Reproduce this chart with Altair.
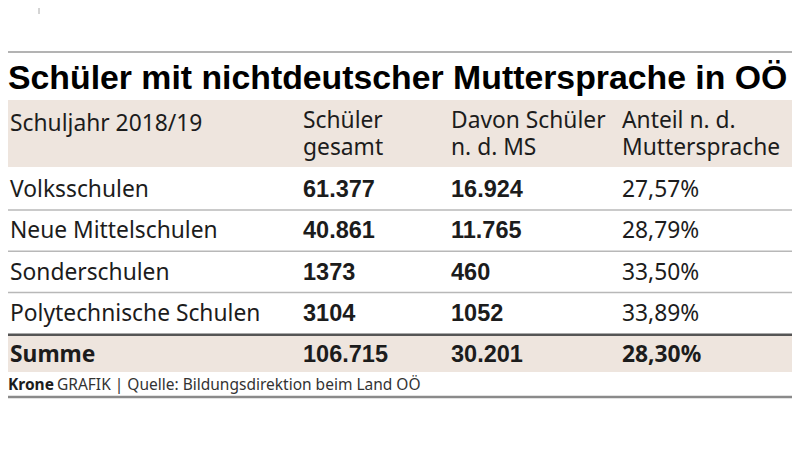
import altair as alt
import pandas as pd

# ---------------- data ----------------
title = "Schüler mit nichtdeutscher Muttersprache in OÖ"
year_label = "Schuljahr 2018/19"
col_headers_1 = ["Schüler", "Davon Schüler", "Anteil n. d."]
col_headers_2 = ["gesamt", "n. d. MS", "Muttersprache"]
schools = ["Volksschulen", "Neue Mittelschulen", "Sonderschulen", "Polytechnische Schulen"]
total_students = [61377, 40861, 1373, 3104]
nds_students = [16924, 11765, 460, 1052]
share_pct = [27.57, 28.79, 33.50, 33.89]
sum_label = "Summe"
sum_total = 106715
sum_nds = 30201
sum_share = 28.30
source_brand = "Krone"
source_text = "GRAFIK | Quelle: Bildungsdirektion beim Land OÖ"


def fmt_int(v):
    return f"{v:,}".replace(",", ".") if v >= 10000 else str(v)


def fmt_pct(v):
    return f"{v:.2f}".replace(".", ",") + "%"


rows = schools + [sum_label]
df = pd.DataFrame({
    "row": rows,
    "gesamt": [fmt_int(v) for v in total_students + [sum_total]],
    "ms": [fmt_int(v) for v in nds_students + [sum_nds]],
    "anteil": [fmt_pct(v) for v in share_pct + [sum_share]],
})
body = df.iloc[:4]
summe = df.iloc[4:]

# ---------------- layout / style ----------------
W, H = 784, 436
COND = "Liberation Sans, Arial, DejaVu Sans"
SANS = "Noto Sans"
INK = "#1c1c1c"
BEIGE = "#eee5de"
col_x = [295, 443, 614]
FS = 22.8

yscale = alt.Scale(type="point", domain=rows, range=[182, 347], padding=0)
Y = alt.Y("row:N", scale=yscale, axis=None)

blank = pd.DataFrame({"k": [0]})
base = alt.Chart(blank)

layers = []
# stray tick mark top-left
layers.append(base.mark_rule(color="#aaaaaa", strokeWidth=1).encode(
    x=alt.value(31), y=alt.value(0), y2=alt.value(6)))
# top rule
layers.append(base.mark_rule(color="#9a9a9a", strokeWidth=1.5).encode(
    x=alt.value(0), x2=alt.value(W), y=alt.value(44)))
# title
layers.append(base.mark_text(text=title, font=COND, fontSize=33.8, fontWeight="bold",
                             align="left", baseline="alphabetic", color="#000000").encode(
    x=alt.value(0), y=alt.value(81)))
# header band
layers.append(base.mark_rect(color=BEIGE).encode(
    x=alt.value(0), x2=alt.value(W), y=alt.value(92), y2=alt.value(159)))
# summe band
layers.append(base.mark_rect(color=BEIGE).encode(
    x=alt.value(0), x2=alt.value(W), y=alt.value(327), y2=alt.value(364)))
# thin separators
layers.append(alt.Chart(df.iloc[:3]).mark_rule(color="#b8b8b8", strokeWidth=1.5, yOffset=20).encode(
    y=Y, x=alt.value(0), x2=alt.value(W)))
# dark separator before Summe
layers.append(alt.Chart(df.iloc[3:4]).mark_rule(color="#555555", strokeWidth=2.5, yOffset=21).encode(
    y=Y, x=alt.value(0), x2=alt.value(W)))
# header texts
layers.append(base.mark_text(text=year_label, font=SANS, fontSize=FS, align="left",
                             baseline="alphabetic", color=INK).encode(
    x=alt.value(2), y=alt.value(123)))
for h1, h2, cx in zip(col_headers_1, col_headers_2, col_x):
    layers.append(base.mark_text(text=h1, font=SANS, fontSize=FS, align="left",
                                 baseline="alphabetic", color=INK).encode(
        x=alt.value(cx), y=alt.value(120)))
    layers.append(base.mark_text(text=h2, font=SANS, fontSize=FS, align="left",
                                 baseline="alphabetic", color=INK).encode(
        x=alt.value(cx), y=alt.value(147)))
# body labels
layers.append(alt.Chart(body).mark_text(font=SANS, fontSize=FS, align="left", baseline="middle",
                                        color=INK).encode(x=alt.value(2), y=Y, text="row:N"))
layers.append(alt.Chart(summe).mark_text(font=SANS, fontSize=FS, fontWeight="bold", align="left",
                                         baseline="middle", color=INK).encode(
    x=alt.value(2), y=Y, text="row:N"))
# number columns
for field, cx in zip(["gesamt", "ms"], col_x[:2]):
    layers.append(alt.Chart(df).mark_text(font=COND, fontSize=23.5, fontWeight="bold", align="left",
                                          baseline="middle", color=INK).encode(
        x=alt.value(cx), y=Y, text=f"{field}:N"))
layers.append(alt.Chart(body).mark_text(font=SANS, fontSize=FS, align="left", baseline="middle",
                                        color=INK).encode(x=alt.value(col_x[2]), y=Y, text="anteil:N"))
layers.append(alt.Chart(summe).mark_text(font=SANS, fontSize=FS, fontWeight="bold", align="left",
                                         baseline="middle", color=INK).encode(
    x=alt.value(col_x[2]), y=Y, text="anteil:N"))
# footer
layers.append(base.mark_text(text=source_brand, font=SANS, fontSize=15.5, fontWeight="bold",
                             align="left", baseline="middle", color=INK).encode(
    x=alt.value(0), y=alt.value(377)))
layers.append(base.mark_text(text=source_text, font=SANS, fontSize=15.5, align="left",
                             baseline="middle", color="#333333").encode(
    x=alt.value(49), y=alt.value(377)))
# bottom rule
layers.append(base.mark_rule(color="#8a8a8a", strokeWidth=2.5).encode(
    x=alt.value(0), x2=alt.value(W), y=alt.value(389)))

chart = alt.layer(*layers).properties(
    width=W, height=H, autosize=alt.AutoSizeParams(type="none"), padding=0,
    background="white",
).configure_view(stroke=None)

chart.save("out.html", embed_options={"renderer": "svg", "actions": False})
